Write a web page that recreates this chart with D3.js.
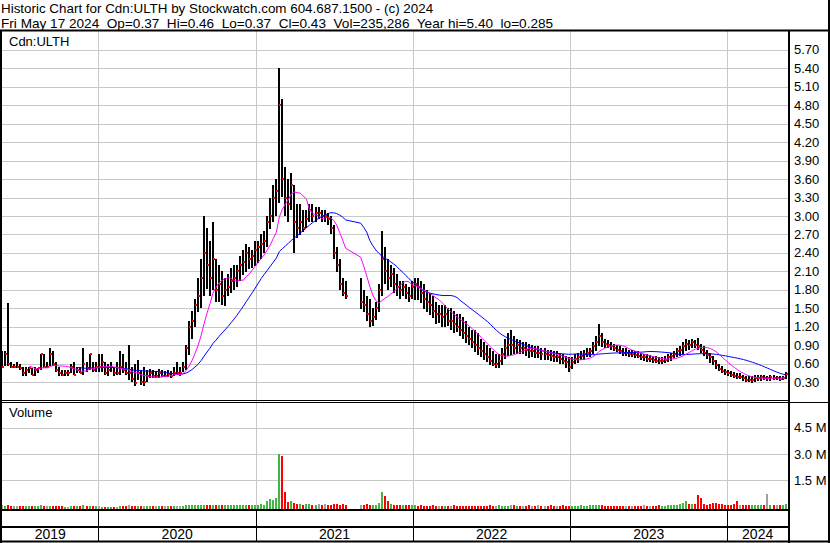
<!DOCTYPE html>
<html>
<head>
<meta charset="utf-8">
<script src="https://cdn.jsdelivr.net/npm/d3@7"></script>
<style>
  body { margin: 0; background: #fff; }
  svg { display: block; }
  text { font-family: "Liberation Sans", Arial, sans-serif; fill: #000; }
</style>
</head>
<body>
<svg id="chart" width="830" height="543"></svg>
<script>
// weekly bars, first one is the week of Mon May 20 2019
var firstWeek = new Date(2019, 4, 20);

var highs = [
  // 2019
  0.80,0.80,1.58,0.62,0.60,0.62,0.60,0.55,0.55,0.55,0.53,0.55,0.53,0.76,0.76,0.62,
  0.85,0.80,0.62,0.55,0.50,0.50,0.50,0.60,0.62,0.55,0.55,0.85,0.62,0.76,0.62,0.62,
  // 2020
  0.75,0.75,0.62,0.60,0.62,0.55,0.62,0.80,0.76,0.62,0.90,0.55,0.60,0.66,0.50,0.55,
  0.50,0.52,0.50,0.48,0.52,0.50,0.48,0.50,0.48,0.55,0.62,0.55,0.62,
  0.90,1.30,1.45,1.65,2.00,2.30,3.00,2.80,2.60,2.90,2.30,2.20,2.10,2.00,2.05,2.15,
  2.20,2.20,2.35,2.45,2.55,2.50,2.45,2.60,
  // 2021
  2.60,2.70,2.75,3.00,3.30,3.50,3.60,5.40,4.90,3.80,3.60,3.70,3.50,3.20,3.20,3.10,
  3.10,3.20,3.20,3.15,3.15,3.10,3.10,3.05,3.00,2.85,2.50,2.30,2.00,1.95,
  null,null,null,null,
  2.00,1.80,1.70,1.65,1.50,1.60,1.90,2.75,2.50,2.30,2.20,2.15,2.05,1.95,1.95,1.90,
  1.85,1.95,
  // 2022
  2.00,2.00,1.95,1.90,1.80,1.75,1.70,1.60,1.55,1.55,1.55,1.50,1.50,1.45,1.40,1.40,
  1.35,1.30,1.20,1.15,1.15,1.10,1.00,0.95,0.90,0.85,0.80,0.75,0.75,0.85,1.00,1.10,
  1.15,1.05,1.00,0.98,0.95,0.95,0.92,0.90,0.88,0.88,0.85,0.85,0.82,0.82,0.80,0.80,
  0.78,0.75,0.72,0.70,
  // 2023
  0.70,0.75,0.78,0.80,0.82,0.85,0.85,0.95,1.05,1.25,1.10,1.00,0.98,0.95,0.92,0.90,
  0.88,0.85,0.85,0.82,0.82,0.80,0.80,0.78,0.76,0.75,0.74,0.72,0.72,0.70,0.70,0.72,
  0.75,0.78,0.80,0.85,0.88,0.95,1.00,0.98,1.00,0.98,1.02,0.92,0.88,0.82,0.78,0.72,
  0.66,0.60,0.56,0.52,
  // 2024
  0.50,0.48,0.46,0.45,0.44,0.42,0.40,0.40,0.40,0.42,0.42,0.42,0.41,0.40,0.42,0.41,
  0.40,0.40,0.40,0.46
];

var lows = [
  0.53,0.55,0.55,0.53,0.53,0.53,0.50,0.41,0.41,0.45,0.41,0.41,0.45,0.50,0.53,0.53,
  0.55,0.55,0.45,0.41,0.41,0.41,0.41,0.45,0.41,0.45,0.45,0.41,0.45,0.50,0.45,0.45,
  0.45,0.45,0.41,0.41,0.45,0.41,0.41,0.41,0.45,0.41,0.33,0.30,0.25,0.33,0.25,0.24,
  0.30,0.37,0.37,0.37,0.38,0.38,0.38,0.38,0.37,0.40,0.41,0.41,0.45,
  0.50,0.75,1.00,1.20,1.45,1.50,1.70,1.80,1.70,1.80,1.60,1.60,1.55,1.55,1.70,1.75,
  1.80,1.85,1.95,2.05,2.10,2.15,2.15,2.20,
  2.25,2.30,2.40,2.50,2.80,2.90,3.00,3.20,3.30,3.00,2.90,3.10,2.40,2.65,2.70,2.75,
  2.80,2.90,2.90,2.90,2.95,2.90,2.90,2.85,2.70,2.30,2.10,1.80,1.70,1.65,
  null,null,null,null,
  1.50,1.45,1.30,1.20,1.20,1.30,1.45,1.70,1.90,1.80,1.85,1.75,1.70,1.65,1.70,1.65,
  1.60,1.65,
  1.65,1.65,1.60,1.50,1.45,1.40,1.35,1.25,1.25,1.20,1.20,1.20,1.15,1.10,1.10,1.05,
  1.00,0.95,0.90,0.85,0.80,0.75,0.70,0.65,0.62,0.58,0.55,0.52,0.52,0.58,0.68,0.72,
  0.75,0.75,0.75,0.75,0.75,0.72,0.70,0.70,0.68,0.68,0.66,0.66,0.65,0.64,0.62,0.62,
  0.60,0.58,0.52,0.45,
  0.50,0.58,0.62,0.65,0.65,0.70,0.70,0.75,0.80,0.90,0.88,0.85,0.85,0.82,0.80,0.78,
  0.75,0.72,0.72,0.70,0.70,0.68,0.68,0.66,0.64,0.62,0.62,0.60,0.60,0.58,0.58,0.60,
  0.62,0.65,0.68,0.70,0.72,0.75,0.80,0.82,0.85,0.85,0.82,0.78,0.72,0.68,0.62,0.58,
  0.52,0.48,0.44,0.42,
  0.40,0.38,0.36,0.35,0.34,0.32,0.30,0.30,0.29,0.30,0.32,0.33,0.33,0.32,0.33,0.33,
  0.33,0.32,0.33,0.34
];

var closes = [
  0.55,0.76,0.60,0.55,0.55,0.55,0.53,0.45,0.50,0.53,0.41,0.50,0.53,0.76,0.55,0.55,
  0.76,0.60,0.50,0.45,0.41,0.45,0.45,0.55,0.41,0.50,0.45,0.60,0.53,0.76,0.50,0.55,
  0.55,0.62,0.45,0.50,0.55,0.45,0.45,0.55,0.50,0.45,0.45,0.35,0.28,0.45,0.30,0.30,
  0.40,0.45,0.40,0.40,0.45,0.40,0.40,0.43,0.40,0.45,0.45,0.45,0.55,
  0.85,1.20,1.30,1.55,1.70,2.00,2.40,2.20,2.00,2.30,1.80,1.90,1.70,1.80,1.85,1.95,
  2.00,2.10,2.20,2.25,2.40,2.30,2.35,2.45,
  2.50,2.55,2.60,2.90,3.00,3.30,3.40,4.80,3.60,3.30,3.20,3.50,2.90,2.80,2.90,2.80,
  2.95,3.10,3.00,3.05,3.05,3.00,3.00,2.95,2.80,2.40,2.20,1.90,1.75,1.70,
  null,null,null,null,
  1.60,1.55,1.40,1.30,1.35,1.50,1.80,2.30,2.10,2.00,2.05,1.90,1.85,1.80,1.85,1.75,
  1.70,1.85,
  1.90,1.85,1.75,1.65,1.60,1.55,1.45,1.40,1.40,1.35,1.40,1.30,1.30,1.25,1.20,1.15,
  1.10,1.05,1.00,0.95,0.90,0.85,0.80,0.75,0.70,0.65,0.60,0.60,0.65,0.75,0.85,0.90,
  0.90,0.85,0.90,0.85,0.85,0.82,0.80,0.80,0.78,0.78,0.75,0.75,0.74,0.72,0.70,0.70,
  0.68,0.65,0.62,0.55,
  0.62,0.68,0.70,0.72,0.75,0.78,0.80,0.88,0.95,1.05,0.95,0.92,0.90,0.88,0.85,0.82,
  0.80,0.78,0.78,0.75,0.75,0.74,0.72,0.70,0.70,0.68,0.68,0.66,0.65,0.64,0.65,0.66,
  0.70,0.72,0.75,0.80,0.82,0.88,0.92,0.90,0.95,0.90,0.88,0.82,0.78,0.74,0.70,0.64,
  0.58,0.52,0.48,0.46,
  0.44,0.42,0.40,0.38,0.38,0.36,0.34,0.33,0.34,0.36,0.37,0.38,0.37,0.37,0.38,0.36,
  0.36,0.35,0.36,0.43
];

// thousands of shares
var volumesK = [
  60,40,110,40,30,50,40,30,40,30,40,30,40,60,40,30,50,40,30,20,30,0,0,30,40,30,40,60,40,50,40,40,
  30,0,0,0,0,0,0,30,40,30,60,40,50,40,30,40,30,30,40,30,30,40,30,30,40,30,40,30,50,
  80,90,70,80,90,100,90,70,80,60,70,60,60,60,60,70,80,100,70,60,60,60,80,70,
  80,150,100,300,450,350,500,3000,2900,850,250,300,200,150,120,100,150,120,100,100,150,100,120,100,100,150,130,100,120,110,
  0,0,0,0,
  100,90,130,100,80,100,200,820,590,300,150,100,80,70,90,60,60,70,
  60,50,60,40,50,40,60,50,40,40,50,40,40,60,40,50,40,40,30,40,50,40,40,50,40,60,50,40,60,50,40,50,
  80,60,40,50,40,40,60,40,50,100,40,50,40,80,40,50,40,60,40,50,
  50,40,50,60,50,40,60,110,110,90,60,50,40,50,40,50,40,40,50,40,40,50,40,50,60,40,50,40,40,60,
  50,40,60,80,90,100,120,200,340,150,120,150,650,460,120,100,150,200,200,150,120,80,
  100,80,120,300,100,80,60,80,60,80,100,60,80,690,60,80,100,60,80,170
];

var priceTicks = [0.30,0.60,0.90,1.20,1.50,1.80,2.10,2.40,2.70,3.00,3.30,3.60,3.90,4.20,4.50,4.80,5.10,5.40,5.70];
var volumeTicks = [1500000, 3000000, 4500000];
var volumeTickLabels = ["1.5 M", "3.0 M", "4.5 M"];
var yearLabels = ["2019", "2020", "2021", "2022", "2023", "2024"];
var shortMaWeeks = 10, longMaWeeks = 26;

var titleLine1 = "Historic Chart for Cdn:ULTH by Stockwatch.com 604.687.1500 - (c) 2024";
var titleLine2 = "Fri May 17 2024  Op=0.37  Hi=0.46  Lo=0.37  Cl=0.43  Vol=235,286  Year hi=5.40  lo=0.285";

var svg = d3.select("#chart");
var left = 2, right = 788, priceTop = 31, priceBottom = 400, volTop = 402, volBottom = 509, axisBottom = 541;

var x = d3.scaleTime()
  .domain([new Date(2019, 4, 22), new Date(2024, 4, 21)])
  .range([left, right]);
var y = d3.scaleLinear().domain([0, 6]).range([400.5, 31.5]);
var yv = d3.scaleLinear().domain([0, 6000000]).range([506.5, 401.5]);

var data = highs.map(function(h, i) {
  return {
    date: d3.timeWeek.offset(firstWeek, i),
    high: h, low: lows[i], close: closes[i],
    vol: volumesK[i] * 1000,
    prev: i > 0 ? closes[i - 1] : null
  };
});
var traded = data.filter(function(d) { return d.high != null; });

// moving averages over traded weeks
function movingAvg(n) {
  var out = [];
  traded.forEach(function(d, i) {
    if (i < n - 1) return;
    out.push({date: d.date, v: d3.mean(traded.slice(i - n + 1, i + 1), function(e) { return e.close; })});
  });
  return out;
}

var crisp = function(v) { return Math.round(v) + 0.5; };
var yearStarts = [2020, 2021, 2022, 2023, 2024].map(function(yr) { return new Date(yr, 0, 1); });

// header
svg.append("text").attr("x", 1).attr("y", 12.5).style("font-size", "13.4px").text(titleLine1);
svg.append("text").attr("x", 1).attr("y", 27.5).style("font-size", "13.6px")
  .attr("xml:space", "preserve").text(titleLine2);

// gridlines
var grid = svg.append("g").attr("stroke", "#c8c8c8").attr("stroke-width", 1);
grid.selectAll(".hg").data(priceTicks).enter().append("line")
  .attr("x1", left).attr("x2", right)
  .attr("y1", function(d) { return crisp(y(d)); })
  .attr("y2", function(d) { return crisp(y(d)); });
grid.selectAll(".vg").data(volumeTicks).enter().append("line")
  .attr("x1", left).attr("x2", right)
  .attr("y1", function(d) { return crisp(yv(d)); })
  .attr("y2", function(d) { return crisp(yv(d)); });
grid.selectAll(".yg").data(yearStarts).enter().append("line")
  .attr("x1", function(d) { return crisp(x(d)); })
  .attr("x2", function(d) { return crisp(x(d)); })
  .attr("y1", priceTop).attr("y2", volBottom);

// price bars
var bars = svg.append("g");
bars.selectAll("rect").data(traded).enter().append("rect")
  .attr("x", function(d) { return Math.round(x(d.date)); })
  .attr("y", function(d) { return Math.round(y(d.high)); })
  .attr("width", 2)
  .attr("height", function(d) { return Math.max(1, Math.round(y(d.low) - y(d.high))); })
  .attr("fill", "#000");
bars.selectAll("rect.cl").data(traded).enter().append("rect")
  .attr("class", "cl")
  .attr("x", function(d) { return Math.round(x(d.date)) + 1; })
  .attr("y", function(d) { return Math.round(y(d.close)) - 1; })
  .attr("width", 2).attr("height", 2)
  .attr("fill", "#ff0000");

// moving averages
var maLine = d3.line()
  .x(function(d) { return x(d.date) + 1; })
  .y(function(d) { return y(d.v); });
svg.append("path").datum(movingAvg(longMaWeeks))
  .attr("fill", "none").attr("stroke", "#0000ff").attr("stroke-width", 1).attr("d", maLine);
svg.append("path").datum(movingAvg(shortMaWeeks))
  .attr("fill", "none").attr("stroke", "#ff00ff").attr("stroke-width", 1).attr("d", maLine);

// volume
svg.append("g").selectAll("rect").data(traded).enter().append("rect")
  .attr("x", function(d) { return Math.round(x(d.date)); })
  .attr("y", function(d) { return Math.round(yv(d.vol)); })
  .attr("width", 2)
  .attr("height", function(d) { return volBottom - Math.round(yv(d.vol)); })
  .attr("fill", function(d) {
    if (d.prev == null || d.close === d.prev) return "#a0a0a0";
    return d.close > d.prev ? "#44b544" : "#ff0000";
  });

// frame
var frame = svg.append("g").attr("stroke", "#000").attr("fill", "none");
frame.append("line").attr("x1", 0).attr("x2", 830).attr("y1", 30.5).attr("y2", 30.5).attr("stroke-width", 2);
frame.append("line").attr("x1", 1).attr("x2", 1).attr("y1", 30).attr("y2", 543).attr("stroke-width", 2);
frame.append("line").attr("x1", 829).attr("x2", 829).attr("y1", 0).attr("y2", 543).attr("stroke-width", 2);
frame.append("line").attr("x1", 789).attr("x2", 789).attr("y1", 30).attr("y2", 543).attr("stroke-width", 2);
frame.append("line").attr("x1", 0).attr("x2", 789).attr("y1", 400.5).attr("y2", 400.5);
frame.append("line").attr("x1", 0).attr("x2", 830).attr("y1", 402.5).attr("y2", 402.5);
frame.append("line").attr("x1", 0).attr("x2", 789).attr("y1", 510).attr("y2", 510).attr("stroke-width", 2);
frame.append("line").attr("x1", 0).attr("x2", 789).attr("y1", 527).attr("y2", 527).attr("stroke-width", 2);
frame.append("line").attr("x1", 0).attr("x2", 830).attr("y1", 541.5).attr("y2", 541.5).attr("stroke-width", 2);
frame.selectAll(".yt").data(yearStarts).enter().append("line")
  .attr("x1", function(d) { return crisp(x(d)); })
  .attr("x2", function(d) { return crisp(x(d)); })
  .attr("y1", 510).attr("y2", 541);

// axis labels
svg.append("g").selectAll("text").data(priceTicks).enter().append("text")
  .attr("x", 794).attr("y", function(d) { return y(d) + 4.5; })
  .style("font-size", "13px")
  .text(function(d) { return d.toFixed(2); });
svg.append("g").selectAll("text").data(volumeTicks).enter().append("text")
  .attr("x", 794).attr("y", function(d) { return yv(d) + 4.5; })
  .style("font-size", "13px")
  .text(function(d, i) { return volumeTickLabels[i]; });

var bounds = [x.range()[0]].concat(yearStarts.map(x)).concat([x.range()[1]]);
svg.append("g").selectAll("text").data(yearLabels).enter().append("text")
  .attr("x", function(d, i) { return (bounds[i] + bounds[i + 1]) / 2; })
  .attr("y", 539)
  .attr("text-anchor", "middle")
  .style("font-size", "14px")
  .text(function(d) { return d; });

svg.append("text").attr("x", 9).attr("y", 46).style("font-size", "13px").text("Cdn:ULTH");
svg.append("text").attr("x", 9).attr("y", 417).style("font-size", "13px").text("Volume");
</script>
</body>
</html>
